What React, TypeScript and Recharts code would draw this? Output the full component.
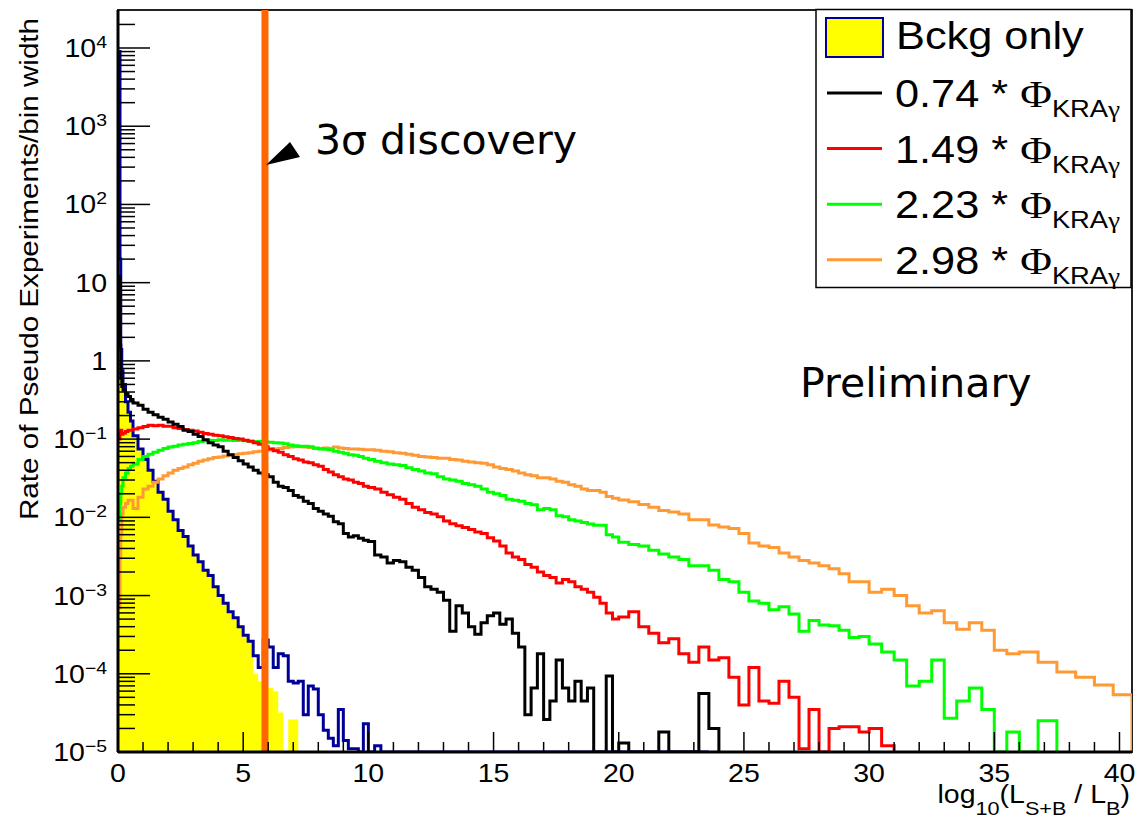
import React from 'react'
import { ComposedChart, Area, Line, XAxis, YAxis, ReferenceArea } from 'recharts'

// histogram bin edges, log10(L_S+B / L_B)
const binEdges = [
  0, 0.08, 0.11, 0.15, 0.2, 0.3, 0.4, 0.5, 0.6,
  0.8, 1.0, 1.2, 1.4, 1.6, 1.8, 2.0, 2.2, 2.4, 2.6, 2.8, 3.0, 3.2, 3.4, 3.6, 3.8, 4.0, 4.2, 4.4, 4.6, 4.8, 5.0,
  5.2, 5.4, 5.6, 5.8, 6.0, 6.2, 6.4, 6.6, 6.8, 7.0, 7.2, 7.4, 7.6, 7.8, 8.0, 8.2, 8.4, 8.6, 8.8, 9.0, 9.2, 9.4, 9.6, 9.8, 10.0,
  10.25, 10.5, 10.75, 11, 11.25, 11.5, 11.75, 12, 12.25, 12.5, 12.75, 13, 13.25, 13.5, 13.75, 14, 14.25, 14.5, 14.75, 15,
  15.25, 15.5, 15.75, 16, 16.25, 16.5, 16.75, 17, 17.25, 17.5, 17.75, 18, 18.25, 18.5, 18.75, 19, 19.25, 19.5, 19.75, 20,
  20.4, 20.8, 21.2, 21.6, 22, 22.4, 22.8, 23.2, 23.6, 24, 24.4, 24.8, 25.2, 25.6, 26, 26.4, 26.8, 27.2, 27.6, 28, 28.4, 28.8, 29.2, 29.6, 30,
  30.5, 31, 31.5, 32, 32.5, 33, 33.5, 34, 34.5, 35, 35.5, 36,
  36.75, 37.5, 38.25, 39, 39.75, 40.5,
]

// rate of pseudo experiments / bin width, one value per bin (0 = empty bin)
const bkgOnly = [
  9000, 20, 1.4, 0.75, 0.5, 0.3, 0.22, 0.17,
  0.11, 0.075, 0.055, 0.04, 0.029, 0.021, 0.017, 0.012, 0.0093, 0.0068, 0.0057, 0.0043, 0.0033, 0.0027, 0.0021, 0.0018,
  0.0013, 0.001, 0.0008, 0.00062, 0.00052, 0.0004,
  0.00031, 0.00026, 0.00017, 0.00012, 0.00027, 0.00022, 0.00012, 0.00018, 0.00017, 0.00008, 0.000076, 0.00008, 0.00003,
  0.00007, 0.000064, 0.00003, 0.000019, 0.000015, 0.000012, 0.000035, 0.000014, 0.000011, 0.000011, 0, 0.000023,
  0, 0.000012, 0, 0, 0, 0, 0, 0, 0, 0, 0, 0, 0, 0, 0, 0, 0, 0, 0, 0,
  0, 0, 0, 0, 0, 0, 0, 0, 0, 0, 0, 0, 0, 0, 0, 0, 0, 0, 0, 0,
  0, 0, 0, 0, 0, 0, 0, 0, 0,
]

// yellow filled histogram: follows bkgOnly up to x = 5.4, then this tail
const bkgFillTail = [0.0001, 0.00008, 0.00007, 0.000066, 0.00006, 0.000032, 0, 0.000026, 0.000026]

const flux074 = [
  12, 1.6, 0.6, 0.47, 0.42, 0.38, 0.35, 0.32,
  0.29, 0.27, 0.24, 0.22, 0.205, 0.19, 0.18, 0.165, 0.155, 0.145, 0.13, 0.125, 0.115, 0.108, 0.098, 0.09,
  0.084, 0.08, 0.07, 0.063, 0.058, 0.053,
  0.048, 0.044, 0.04, 0.037, 0.035, 0.033, 0.028, 0.025, 0.024, 0.022, 0.019, 0.018, 0.016, 0.015, 0.013,
  0.012, 0.011, 0.0103, 0.0088, 0.0083, 0.0062, 0.0056, 0.0058, 0.0054, 0.0051,
  0.0049, 0.0033, 0.0031, 0.0026, 0.0028, 0.0027, 0.0023, 0.0021, 0.0017, 0.0013,
  0.0012, 0.0011, 0.00087, 0.00035, 0.00074, 0.0006, 0.0004, 0.00032, 0.00045, 0.00055,
  0.0006, 0.00043, 0.0005, 0.00033, 0.00022, 0.00003, 0.000066, 0.00018, 0.000026, 0.000045,
  0.00015, 0.000066, 0.000045, 0.00008, 0.000045, 0.000066, 0, 0, 0.000094, 0,
  0.000013, 0, 0, 0, 0.000018, 0, 0, 0, 0.000056, 0.00002,
]

const flux149 = [
  0.1, 0.12, 0.13, 0.115, 0.12, 0.125, 0.13, 0.13,
  0.135, 0.14, 0.145, 0.15, 0.148, 0.15, 0.146, 0.146, 0.14, 0.137, 0.133, 0.13, 0.127, 0.122, 0.118, 0.115,
  0.112, 0.11, 0.107, 0.105, 0.102, 0.1,
  0.097, 0.094, 0.09, 0.086, 0.08, 0.075, 0.071, 0.068, 0.063, 0.06, 0.056, 0.054, 0.051, 0.05, 0.047,
  0.045, 0.041, 0.038, 0.035, 0.033, 0.031, 0.03, 0.028, 0.027, 0.025,
  0.024, 0.023, 0.021, 0.0195, 0.018, 0.017, 0.015, 0.0135, 0.0125, 0.0115,
  0.011, 0.0102, 0.009, 0.0083, 0.0078, 0.0074, 0.007, 0.0065, 0.0062, 0.0055,
  0.005, 0.0043, 0.0035, 0.0031, 0.0029, 0.0025, 0.0023, 0.002, 0.0018, 0.0017,
  0.00145, 0.0016, 0.0015, 0.0013, 0.0012, 0.0011, 0.00095, 0.0008, 0.0006, 0.0005,
  0.00053, 0.00062, 0.0004, 0.00033, 0.00025, 0.00028, 0.00018, 0.00014, 0.00022, 0.00015,
  0.00016, 0.00009, 0.00004, 0.00012, 0.000045, 0.000042, 0.00008, 0.00005, 0.000011, 0.000035,
  0, 0.00002, 0.000021, 0.000021, 0.000018,
  0.00002, 0.000012,
]

const flux223 = [
  0.0095, 0.015, 0.02, 0.025, 0.032, 0.037, 0.042, 0.045,
  0.048, 0.055, 0.06, 0.064, 0.068, 0.072, 0.076, 0.079, 0.081, 0.084, 0.086, 0.088, 0.09, 0.093, 0.095, 0.097,
  0.096, 0.098, 0.097, 0.097, 0.096, 0.097,
  0.095, 0.094, 0.093, 0.093, 0.092, 0.091, 0.09, 0.089, 0.087, 0.084, 0.082, 0.081, 0.081, 0.08, 0.077,
  0.075, 0.074, 0.073, 0.07, 0.068, 0.066, 0.063, 0.062, 0.06, 0.057,
  0.055, 0.052, 0.05, 0.048, 0.047, 0.046, 0.043, 0.041, 0.039, 0.037,
  0.036, 0.033, 0.031, 0.03, 0.029, 0.027, 0.026, 0.025, 0.023, 0.021,
  0.02, 0.019, 0.017, 0.0165, 0.016, 0.015, 0.0145, 0.0125, 0.013, 0.0125,
  0.0105, 0.0102, 0.0093, 0.009, 0.0086, 0.0082, 0.0079, 0.0079, 0.006, 0.0056,
  0.0048, 0.0045, 0.0043, 0.0038, 0.0034, 0.0031, 0.0029, 0.0024, 0.0024, 0.0021,
  0.0016, 0.0015, 0.0011, 0.00085, 0.0008, 0.00066, 0.00072, 0.00058, 0.00035, 0.00048,
  0.00042, 0.00041, 0.00036, 0.00029, 0.0003,
  0.00024, 0.00019, 0.00015, 0.00007, 0.00008, 0.00015, 0.000027, 0.000045, 0.000066, 0.000035, 0, 0.000018,
  0, 0.000025,
]

const flux298 = [
  0.0007, 0.003, 0.006, 0.011, 0.0135, 0.015, 0.0165, 0.0165,
  0.013, 0.018, 0.023, 0.025, 0.028, 0.031, 0.034, 0.037, 0.04, 0.042, 0.044, 0.047, 0.049, 0.052, 0.054, 0.056,
  0.058, 0.059, 0.061, 0.062, 0.063, 0.065,
  0.066, 0.067, 0.069, 0.07, 0.072, 0.073, 0.075, 0.076, 0.078, 0.079, 0.08, 0.08, 0.079, 0.078, 0.076,
  0.076, 0.077, 0.076, 0.079, 0.077, 0.076, 0.075, 0.075, 0.074, 0.073,
  0.073, 0.072, 0.07, 0.069, 0.067, 0.066, 0.064, 0.062, 0.06, 0.059,
  0.058, 0.057, 0.057, 0.055, 0.054, 0.052, 0.051, 0.05, 0.049, 0.047,
  0.044, 0.042, 0.041, 0.039, 0.037, 0.035, 0.034, 0.032, 0.032, 0.031,
  0.029, 0.028, 0.026, 0.025, 0.023, 0.022, 0.022, 0.021, 0.0185, 0.0175,
  0.0166, 0.0158, 0.0146, 0.0135, 0.0122, 0.0117, 0.011, 0.0093, 0.0093, 0.008,
  0.0075, 0.0072, 0.0062, 0.0047, 0.0043, 0.0041, 0.0035, 0.0031, 0.0028, 0.0026,
  0.0024, 0.0022, 0.0019, 0.0015, 0.0015,
  0.0011, 0.0012, 0.001, 0.00074, 0.0006, 0.00064, 0.00045, 0.00037, 0.00045, 0.00036, 0.0002, 0.00018,
  0.00019, 0.00014, 0.000105, 0.00009, 0.000072, 0.000054,
]

// 3 sigma discovery threshold
const discoveryCut = 5.87

const xMajorTicks = [0, 5, 10, 15, 20, 25, 30, 35, 40]
const xTickLabels = ['0', '5', '10', '15', '20', '25', '30', '35', '40']
const yMajorTicks = [1e-5, 1e-4, 1e-3, 1e-2, 1e-1, 1, 10, 1e2, 1e3, 1e4]
const yTickLabels = [
  ['10', '\u22125'], ['10', '\u22124'], ['10', '\u22123'], ['10', '\u22122'], ['10', '\u22121'],
  ['1', ''], ['10', ''], ['10', '2'], ['10', '3'], ['10', '4'],
]
const yMinorSteps = [2, 3, 4, 5, 6, 7, 8, 9]

const legendEntries = [
  { coef: '0.74', color: '#000000' },
  { coef: '1.49', color: '#ff0000' },
  { coef: '2.23', color: '#00ff00' },
  { coef: '2.98', color: '#ff9933' },
]

const W = 1131
const H = 810
const FLOOR = 1e-5
const Y_MAX = 3.06e4
const X_MAX = 40.5
const SX = 1.14
const SANS = 'Liberation Sans, Arial, sans-serif'

const seriesByKey: Record<string, number[]> = {
  bkgFill: [...bkgOnly.slice(0, 32), ...bkgFillTail],
  bkg: bkgOnly,
  f074: flux074,
  f149: flux149,
  f223: flux223,
  f298: flux298,
}

const rows = binEdges.map((x) => ({ x } as Record<string, number>))
Object.entries(seriesByKey).forEach(([key, vals]) => {
  vals.forEach((v, i) => {
    rows[i][key] = v > 0 ? v : FLOOR
  })
  rows[vals.length][key] = FLOOR
})

const discoveryLine = [
  { x: discoveryCut, cut: FLOOR },
  { x: discoveryCut, cut: Y_MAX },
]

const xTicks = [...xMajorTicks, ...Array.from({ length: 41 }, (_, i) => i).filter((i) => i % 5 !== 0)]
const yTicks = [
  ...yMajorTicks,
  ...yMajorTicks.slice(0, -1).flatMap((d) => yMinorSteps.map((s) => s * d)),
  2e4,
]

const XTick = (props: any) => {
  const { x, y, payload } = props
  const idx = xMajorTicks.indexOf(payload.value)
  return (
    <g>
      <line x1={x} x2={x} y1={y} y2={y - (idx >= 0 ? 20 : 10)} stroke="#000" strokeWidth={1.5} />
      {idx >= 0 && (
        <text
          transform={`translate(${x},${y + 30}) scale(${SX},1)`}
          textAnchor="middle"
          fontFamily={SANS}
          fontSize={25}
          fill="#000"
        >
          {xTickLabels[idx]}
        </text>
      )}
    </g>
  )
}

const YTick = (props: any) => {
  const { x, y, payload } = props
  const idx = yMajorTicks.indexOf(payload.value)
  return (
    <g>
      <line x1={x} x2={x + (idx >= 0 ? 32 : 17)} y1={y} y2={y} stroke="#000" strokeWidth={1.5} />
      {idx >= 0 && (
        <text
          transform={`translate(${x - 11},${y + 9}) scale(${SX},1)`}
          textAnchor="end"
          fontFamily={SANS}
          fontSize={25}
          fill="#000"
        >
          {yTickLabels[idx][0]}
          {yTickLabels[idx][1] && (
            <tspan dy={-9} fontSize={17}>
              {yTickLabels[idx][1]}
            </tspan>
          )}
        </text>
      )}
    </g>
  )
}

export default function App() {
  return (
    <div style={{ position: 'relative', width: W, height: H }}>
      <ComposedChart width={W} height={H} data={rows} margin={{ top: 2, right: 7, bottom: 26, left: 0 }}>
        <XAxis
          dataKey="x"
          type="number"
          domain={[0, X_MAX]}
          allowDataOverflow
          ticks={xTicks}
          interval={0}
          tickLine={false}
          tickSize={0}
          tickMargin={0}
          axisLine={{ stroke: '#000', strokeWidth: 3 }}
          tick={XTick}
          height={40}
        />
        <YAxis
          type="number"
          scale="log"
          domain={[FLOOR, Y_MAX]}
          allowDataOverflow
          ticks={yTicks}
          interval={0}
          tickLine={false}
          tickSize={0}
          tickMargin={0}
          axisLine={{ stroke: '#000', strokeWidth: 3 }}
          tick={YTick}
          width={110}
        />
        <ReferenceArea x1={0} x2={X_MAX} y1={FLOOR} y2={Y_MAX} fill="none" stroke="#222" strokeWidth={2} />
        <Area
          dataKey="bkgFill"
          type="stepAfter"
          fill="#ffff00"
          fillOpacity={1}
          stroke="none"
          baseValue={FLOOR}
          isAnimationActive={false}
        />
        <Line dataKey="bkg" type="stepAfter" stroke="#000099" strokeWidth={3} dot={false} isAnimationActive={false} />
        <Line dataKey="f298" type="stepAfter" stroke="#ff9933" strokeWidth={3} dot={false} isAnimationActive={false} />
        <Line dataKey="f223" type="stepAfter" stroke="#00ff00" strokeWidth={3} dot={false} isAnimationActive={false} />
        <Line dataKey="f149" type="stepAfter" stroke="#ff0000" strokeWidth={3} dot={false} isAnimationActive={false} />
        <Line dataKey="f074" type="stepAfter" stroke="#000000" strokeWidth={3} dot={false} isAnimationActive={false} />
        <Line
          data={discoveryLine}
          dataKey="cut"
          type="linear"
          stroke="#ff6600"
          strokeWidth={7}
          dot={false}
          isAnimationActive={false}
        />
      </ComposedChart>

      <svg
        width={W}
        height={H + 8}
        style={{ position: 'absolute', left: 0, top: 0, overflow: 'visible', pointerEvents: 'none' }}
      >
        <text
          transform={`translate(30,261) rotate(-90) scale(${SX},1)`}
          textAnchor="middle"
          fontFamily={SANS}
          fontSize={26}
          fill="#000"
        >
          Rate of Pseudo Experiments/bin width
        </text>
        <text
          transform={`translate(1122,795) scale(${SX},1)`}
          textAnchor="end"
          fontFamily={SANS}
          fontSize={25}
          fill="#000"
          style={{ whiteSpace: 'pre' }}
        >
          log
          <tspan dy={12} fontSize={19}>10</tspan>
          <tspan dy={-12}>(L</tspan>
          <tspan dy={12} fontSize={19}>S+B</tspan>
          <tspan dy={-12}> / L</tspan>
          <tspan dy={12} fontSize={19}>B</tspan>
          <tspan dy={-12}>)</tspan>
        </text>

        <rect x={808} y={1.5} width={315} height={278} fill="#fff" stroke="#000" strokeWidth={1.5} />
        <rect x={818} y={10} width={57} height={39} fill="#ffff00" stroke="#000099" strokeWidth={2} />
        <text transform={`translate(888,41) scale(${SX},1)`} fontFamily={SANS} fontSize={38} fill="#000">
          Bckg only
        </text>
        {legendEntries.map((e, i) => {
          const ly = 85 + i * 55.6
          return (
            <g key={e.coef}>
              <line x1={819} x2={874} y1={ly} y2={ly} stroke={e.color} strokeWidth={3} />
              <text
                transform={`translate(887,${ly + 14}) scale(${SX},1)`}
                fontFamily={SANS}
                fontSize={38}
                fill="#000"
                style={{ whiteSpace: 'pre' }}
              >
                {e.coef} * <tspan fontFamily="Liberation Serif, serif">{'\u03a6'}</tspan>
                <tspan dy={10} fontSize={24}>KRA</tspan>
                <tspan fontSize={24} fontFamily="Liberation Serif, serif">{'\u03b3'}</tspan>
              </text>
            </g>
          )
        })}

        <text x={307} y={146} fontFamily="DejaVu Sans, sans-serif" fontSize={41} fill="#000">
          {'3\u03c3 discovery'}
        </text>
        <polygon points="258,157 282,134 292,149" fill="#000" />
        <text x={792} y={389} fontFamily="DejaVu Sans, sans-serif" fontSize={41} fill="#000">
          Preliminary
        </text>
      </svg>
    </div>
  )
}
